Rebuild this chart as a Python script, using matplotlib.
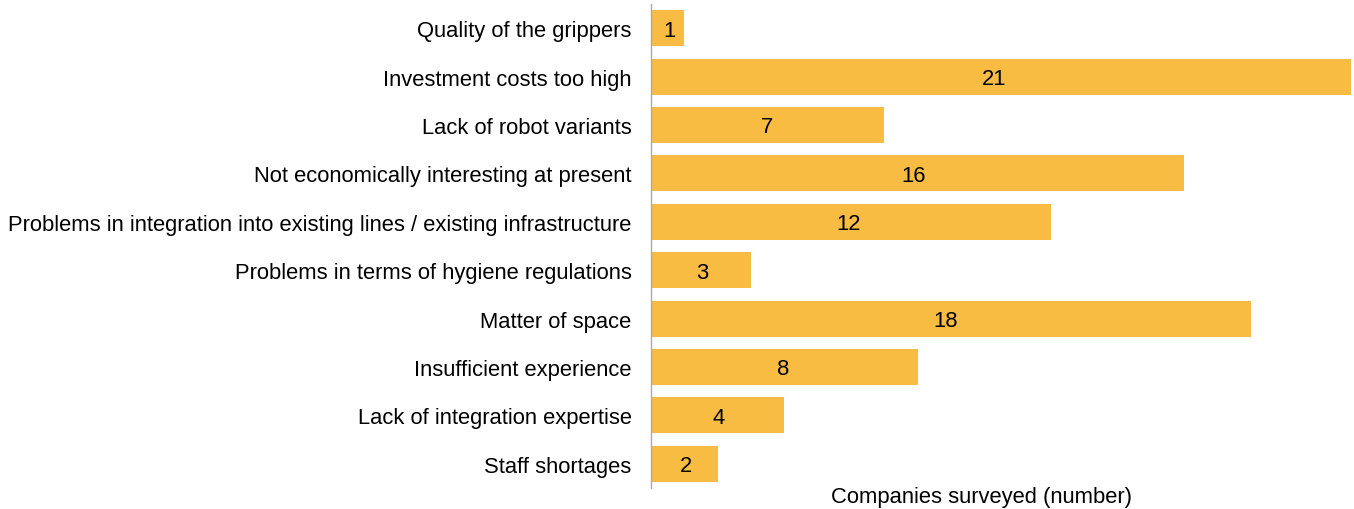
import matplotlib.pyplot as plt

plt.rcParams['font.family'] = ['Liberation Sans', 'DejaVu Sans']

reasons = [
    "Quality of the grippers",
    "Investment costs too high",
    "Lack of robot variants",
    "Not economically interesting at present",
    "Problems in integration into existing lines / existing infrastructure",
    "Problems in terms of hygiene regulations",
    "Matter of space",
    "Insufficient experience",
    "Lack of integration expertise",
    "Staff shortages",
]
companies = [1, 21, 7, 16, 12, 3, 18, 8, 4, 2]

bar_color = "#F9BC42"

fig = plt.figure(figsize=(13.54, 5.10), dpi=100)
ax = fig.add_axes([651 / 1354, 21 / 510, 700 / 1354, 484 / 510])

pos = list(range(len(reasons)))
ax.barh(pos, companies, height=0.74, color=bar_color)
# value labels sit near the middle of each bar, nudged a little left on long bars
for y, v in zip(pos, companies):
    ax.text(0.08 + 0.487 * v, y + 0.04, str(v), ha="center", va="center",
            fontsize=15.8, color="black")

ax.set_xlim(0, 21)
ax.set_ylim(len(reasons) - 0.5, -0.5)
ax.set_yticks(pos)
ax.set_yticklabels(reasons, fontsize=15.8)
ax.tick_params(axis="y", length=0, pad=14)
ax.set_xticks([])

for side in ["top", "right", "bottom"]:
    ax.spines[side].set_visible(False)
ax.spines["left"].set_color("#aaaaaa")
ax.spines["left"].set_linewidth(1)

fig.text(981 / 1354, 12 / 510, "Companies surveyed (number)", fontsize=15.8,
         ha="center", va="center")

fig.savefig("out.png", dpi=100)
